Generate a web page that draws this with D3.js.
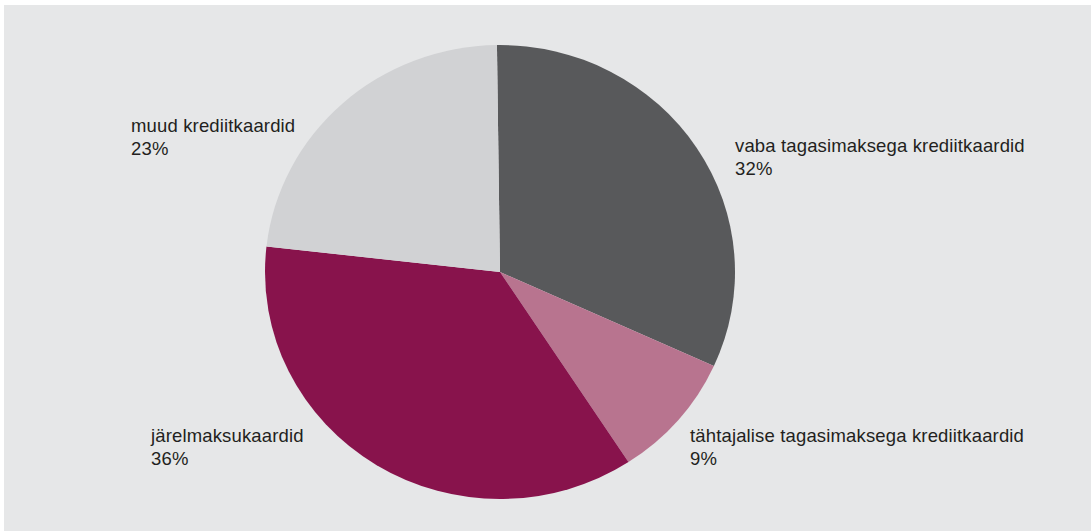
<!DOCTYPE html>
<html>
<head>
<meta charset="utf-8">
<script src="https://cdn.jsdelivr.net/npm/d3@7"></script>
<style>
  html, body { margin: 0; padding: 0; background: #ffffff; }
  svg { display: block; }
  .lbl { font-family: "Liberation Sans", Arial, Helvetica, sans-serif; font-size: 18.5px; letter-spacing: 0.15px; fill: #231f20; }
</style>
</head>
<body>
<div id="chart"></div>
<script>
  var categories = ['vaba tagasimaksega krediitkaardid', 'tähtajalise tagasimaksega krediitkaardid', 'järelmaksukaardid', 'muud krediitkaardid'];
  var shares = [32, 9, 36, 23];
  var colors = ['#58595b', '#b8748f', '#88134c', '#d1d2d4'];

  // where each label block sits (left x, first baseline)
  var labelPos = [[735, 152], [690, 442], [151, 442], [131, 132]];

  var width = 1091, height = 531;
  var cx = 500, cy = 272, r = 227, sx = 235 / 227;

  var svg = d3.select('#chart')
    .append('svg')
    .attr('width', width)
    .attr('height', height);

  svg.append('rect')
    .attr('x', 4)
    .attr('y', 5)
    .attr('width', width - 4)
    .attr('height', height - 5)
    .attr('fill', '#e6e7e8');

  // the original starts a hair left of 12 o'clock
  var start = -0.013;
  var pie = d3.pie().sort(null)
    .startAngle(start)
    .endAngle(start + 2 * Math.PI)
    .value(function (d) { return d; });
  var arc = d3.arc().innerRadius(0).outerRadius(r);

  var g = svg.append('g')
    .attr('transform', 'translate(' + cx + ',' + cy + ') scale(' + sx + ',1)');

  g.selectAll('path')
    .data(pie(shares))
    .enter()
    .append('path')
    .attr('d', arc)
    .attr('fill', function (d, i) { return colors[i]; });

  var lbl = svg.selectAll('text.lbl')
    .data(categories)
    .enter()
    .append('text')
    .attr('class', 'lbl')
    .attr('x', function (d, i) { return labelPos[i][0]; })
    .attr('y', function (d, i) { return labelPos[i][1]; });

  lbl.append('tspan')
    .text(function (d) { return d; });

  lbl.append('tspan')
    .attr('x', function (d, i) { return labelPos[i][0]; })
    .attr('dy', 23)
    .text(function (d, i) { return shares[i] + '%'; });
</script>
</body>
</html>
